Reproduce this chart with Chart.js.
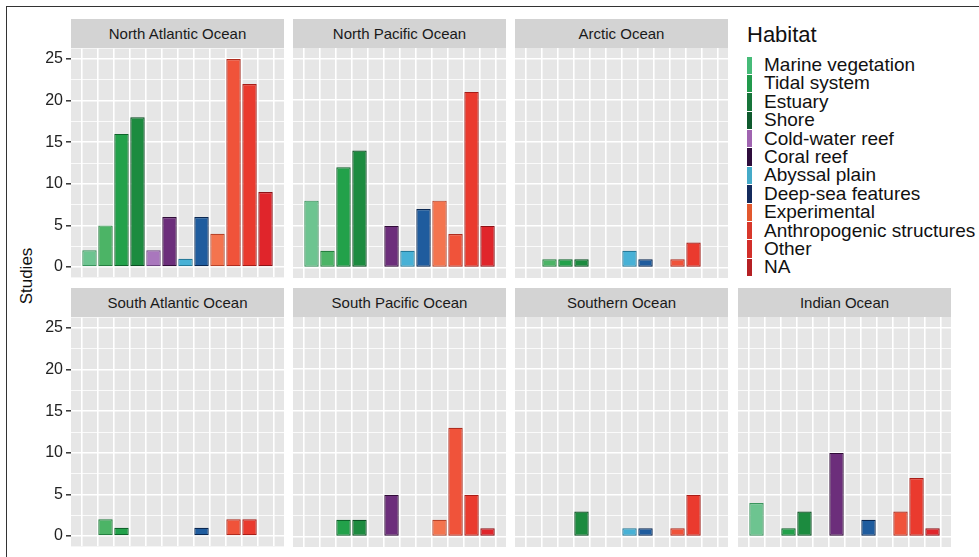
<!DOCTYPE html>
<html>
<head>
  <title>Studies by ocean and habitat</title>
  <script src="https://cdn.jsdelivr.net/npm/chart.js"></script>
  <style>
    body {
      margin: 0;
      width: 979px;
      height: 557px;
      position: relative;
      overflow: hidden;
      background: #fff;
      font-family: "Liberation Sans", Arial, sans-serif;
    }
    .frame-top { position: absolute; left: 6px; top: 6px; width: 973px; border-top: 1.5px solid #333; }
    .frame-left { position: absolute; left: 6px; top: 6px; height: 551px; border-left: 1.5px solid #333; }
    .strip {
      position: absolute;
      height: 29px;
      line-height: 30px;
      background: #d3d3d3;
      color: #1a1a1a;
      font-size: 15px;
      text-align: center;
    }
    canvas { position: absolute; }
    .ylab {
      position: absolute;
      left: 27px;
      top: 276px;
      transform: translate(-50%, -50%) rotate(-90deg);
      font-size: 17px;
      color: #111;
      white-space: nowrap;
    }
    .legend { position: absolute; left: 747px; top: 22px; color: #111; }
    .legend .title { font-size: 22px; height: 34px; line-height: 26px; }
    .legend .item { height: 18.4px; line-height: 18.4px; font-size: 19px; white-space: nowrap; position: relative; padding-left: 17px; }
    .legend .key { position: absolute; left: 0; top: 0.5px; width: 5px; height: 17.4px; }
  </style>
</head>
<body>
  <div class="frame-top"></div>
  <div class="frame-left"></div>
  <div class="ylab">Studies</div>
  <div class="legend" id="legend"><div class="title">Habitat</div></div>

  <script>
    const habitats = ['Marine vegetation', 'Tidal system', 'Estuary', 'Shore', 'Cold-water reef', 'Coral reef',
      'Abyssal plain', 'Deep-sea features', 'Experimental', 'Anthropogenic structures', 'Other', 'NA'];

    // studies per habitat, same order as habitats
    const northAtlantic = [2, 5, 16, 18, 2, 6, 1, 6, 4, 25, 22, 9];
    const northPacific  = [8, 2, 12, 14, 0, 5, 2, 7, 8, 4, 21, 5];
    const arctic        = [0, 1, 1, 1, 0, 0, 2, 1, 0, 1, 3, 0];
    const southAtlantic = [0, 2, 1, 0, 0, 0, 0, 1, 0, 2, 2, 0];
    const southPacific  = [0, 0, 2, 2, 0, 5, 0, 0, 2, 13, 5, 1];
    const southern      = [0, 0, 0, 3, 0, 0, 1, 1, 0, 1, 5, 0];
    const indian        = [4, 0, 1, 3, 0, 10, 0, 2, 0, 3, 7, 1];

    const yTicks = [0, 5, 10, 15, 20, 25];

    const fills = ['#6dc490', '#4cb466', '#22a14a', '#1c8b3f', '#a977bd', '#6c2e7b',
      '#47b1d6', '#1f5c9e', '#f4744e', '#f0533a', '#ea3a2e', '#e0252b'];
    const borders = ['#3a955d', '#267f40', '#0e642a', '#0a4f22', '#6e4582', '#300c38',
      '#257a9a', '#0a2852', '#b8442a', '#b02c1e', '#a81d17', '#8e1216'];
    const keyColors = ['#46bb78', '#219a4c', '#17753a', '#0f5a2e', '#a064b0', '#2e0d3c',
      '#45aac8', '#142a5c', '#e2582e', '#d8382b', '#d22f2a', '#b52024'];

    const panels = [
      { title: 'North Atlantic Ocean', values: northAtlantic, col: 0, row: 0 },
      { title: 'North Pacific Ocean', values: northPacific, col: 1, row: 0 },
      { title: 'Arctic Ocean', values: arctic, col: 2, row: 0 },
      { title: 'South Atlantic Ocean', values: southAtlantic, col: 0, row: 1 },
      { title: 'South Pacific Ocean', values: southPacific, col: 1, row: 1 },
      { title: 'Southern Ocean', values: southern, col: 2, row: 1 },
      { title: 'Indian Ocean', values: indian, col: 3, row: 1 }
    ];

    const colLeft = [71, 293, 515, 738];
    const panelW = 213;
    const stripTop = [19, 288];
    const panelTop = [48, 317];
    const panelH = 230;
    const pad = 12;
    const axisW = 60;

    // grey panel background like ggplot
    const panelBg = {
      id: 'panelBg',
      beforeDraw(chart) {
        const a = chart.chartArea;
        const c = chart.ctx;
        c.save();
        c.fillStyle = '#e6e6e6';
        c.fillRect(a.left, a.top, a.right - a.left, a.bottom - a.top);
        c.restore();
      }
    };

    function isMajor(ctx) {
      return ctx.tick && yTicks.includes(ctx.tick.value);
    }

    function makePanel(p) {
      const left = p.col === 0;
      const strip = document.createElement('div');
      strip.className = 'strip';
      strip.style.left = colLeft[p.col] + 'px';
      strip.style.top = stripTop[p.row] + 'px';
      strip.style.width = panelW + 'px';
      strip.textContent = p.title;
      document.body.appendChild(strip);

      const canvas = document.createElement('canvas');
      const cx = left ? colLeft[p.col] - axisW : colLeft[p.col];
      canvas.width = left ? panelW + axisW : panelW;
      canvas.height = panelH + 2 * pad;
      canvas.style.left = cx + 'px';
      canvas.style.top = (panelTop[p.row] - pad) + 'px';
      document.body.appendChild(canvas);

      new Chart(canvas, {
        type: 'bar',
        data: {
          datasets: [{
            data: p.values.map((v, i) => ({ x: i + 1, y: v })),
            backgroundColor: fills,
            borderColor: borders,
            borderWidth: 1.2,
            borderSkipped: false,
            barPercentage: 0.9,
            categoryPercentage: 1.0
          }]
        },
        options: {
          responsive: false,
          animation: false,
          layout: { padding: { top: pad, bottom: pad, left: 0, right: 0 } },
          plugins: { legend: { display: false }, tooltip: { enabled: false } },
          scales: {
            x: {
              type: 'linear',
              min: 0.4,
              max: habitats.length + 0.6,
              afterBuildTicks: s => { s.ticks = habitats.map((h, i) => ({ value: i + 1 })); },
              afterFit: s => { s.height = 0; },
              ticks: { display: false },
              border: { display: false },
              grid: { color: '#ffffff', lineWidth: 1.6, drawTicks: false }
            },
            y: {
              min: -1.25,
              max: 26.25,
              afterBuildTicks: s => {
                const t = [];
                yTicks.forEach((v, i) => {
                  t.push({ value: v });
                  if (i < yTicks.length - 1) t.push({ value: (v + yTicks[i + 1]) / 2 });
                });
                s.ticks = t;
              },
              afterFit: s => { s.width = left ? axisW : 0; },
              border: { display: false },
              ticks: {
                display: left,
                padding: 3,
                color: '#222',
                font: { size: 16, family: '"Liberation Sans", Arial, sans-serif' },
                callback: v => yTicks.includes(v) ? String(v) : ''
              },
              grid: {
                color: '#ffffff',
                lineWidth: ctx => isMajor(ctx) ? 1.6 : 0.8,
                drawTicks: left,
                tickLength: 5,
                tickWidth: 1.5,
                tickColor: ctx => isMajor(ctx) ? '#333' : 'rgba(0,0,0,0)'
              }
            }
          }
        },
        plugins: [panelBg]
      });
    }

    panels.forEach(makePanel);

    // legend
    const legend = document.getElementById('legend');
    habitats.forEach((h, i) => {
      const item = document.createElement('div');
      item.className = 'item';
      const key = document.createElement('span');
      key.className = 'key';
      key.style.background = keyColors[i];
      item.appendChild(key);
      item.appendChild(document.createTextNode(h));
      legend.appendChild(item);
    });
  </script>
</body>
</html>
